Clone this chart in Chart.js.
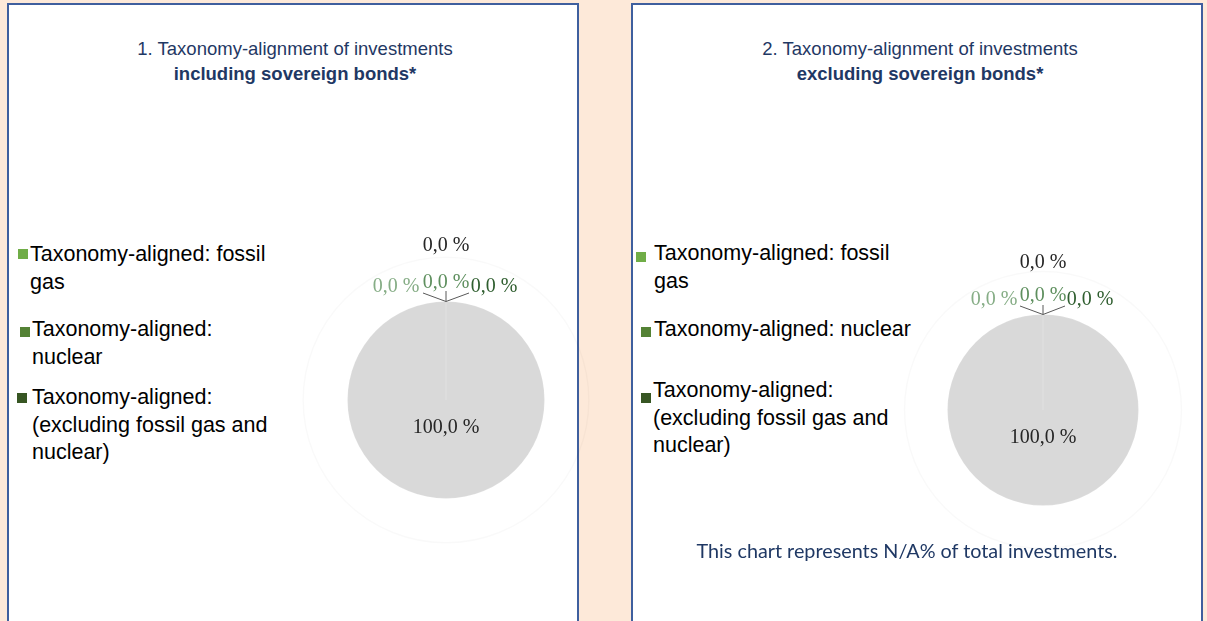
<!DOCTYPE html>
<html>
<head>
<meta charset="utf-8">
<script src="https://cdn.jsdelivr.net/npm/chart.js@4/dist/chart.umd.min.js"></script>
<style>
body { margin: 0; width: 1207px; height: 621px; overflow: hidden; position: relative;
       background: #fde9d9; font-family: "Liberation Sans", Arial, sans-serif; }
.panel { position: absolute; top: 3px; width: 572px; height: 700px; box-sizing: border-box;
         border: 2px solid #3f5f9e; background: #fff; }
.title { position: absolute; top: 36px; width: 420px; text-align: center; font-size: 18.5px;
         line-height: 25px; color: #1f3864; }
.title b { font-weight: bold; }
.item { position: absolute; font-size: 21.5px; line-height: 27.5px; color: #000; }
.sq { position: absolute; width: 10px; height: 10px; }
.note { position: absolute; top: 538px; left: 607px; width: 600px; text-align: center;
        font-family: Lato, sans-serif; font-size: 19.8px; color: #1f3864; }
canvas { position: absolute; }
</style>
</head>
<body>
<div class="panel" style="left:7px"></div>
<div class="panel" style="left:631px"></div>

<div class="title" style="left:85px">1. Taxonomy-alignment of investments<br><b>including sovereign bonds*</b></div>
<div class="title" style="left:710px">2. Taxonomy-alignment of investments<br><b>excluding sovereign bonds*</b></div>

<div id="legend1"></div>
<div id="legend2"></div>

<canvas id="pie1" width="340" height="340" style="left:276px;top:230px"></canvas>
<canvas id="pie2" width="340" height="340" style="left:873px;top:240px"></canvas>

<div class="note">This chart represents N/A% of total investments.</div>

<script>
// data
var categories = [
	"Taxonomy-aligned: fossil gas",
	"Taxonomy-aligned: nuclear",
	"Taxonomy-aligned: (excluding fossil gas and nuclear)",
	"Other investments",
	"Non Taxonomy-aligned"
];
var valuesInclSovereign = [0.0, 0.0, 0.0, 0.0, 100.0];
var valuesExclSovereign = [0.0, 0.0, 0.0, 0.0, 100.0];

var sliceColors = ["#70ad47", "#548235", "#375623", "#a5a5a5", "#d9d9d9"];
var labelColors = ["#86ad86", "#5e8f5e", "#2f5e2f", "#262626", "#262626"];

function fmt(v) {
	return v.toFixed(1).replace(".", ",") + " %";
}

// legend (html, placed like the original text boxes)
function buildLegend(targetId, items) {
	var target = document.getElementById(targetId);
	for (var i = 0; i < items.length; i++) {
		var it = items[i];
		var div = document.createElement("DIV");
		div.className = "item";
		div.style.left = it.x + "px";
		div.style.top = it.y + "px";
		div.style.width = it.w + "px";
		var sq = document.createElement("SPAN");
		sq.className = "sq";
		sq.style.background = sliceColors[i];
		sq.style.left = (it.sx - it.x) + "px";
		sq.style.top = (it.sy - it.y) + "px";
		div.appendChild(sq);
		div.appendChild(document.createTextNode(categories[i]));
		target.appendChild(div);
	}
}

buildLegend("legend1", [
	{ x: 30, y: 241, w: 248, sx: 18, sy: 249 },
	{ x: 32, y: 316, w: 248, sx: 20, sy: 327 },
	{ x: 32, y: 384, w: 248, sx: 17, sy: 393 }
]);
buildLegend("legend2", [
	{ x: 654, y: 240, w: 264, sx: 636, sy: 252 },
	{ x: 654, y: 316, w: 264, sx: 641, sy: 327 },
	{ x: 653, y: 377, w: 264, sx: 641, sy: 393 }
]);

// data labels + leader lines, positioned like the excel ones
var pieLabels = {
	id: "pieLabels",
	beforeDatasetsDraw: function(chart, args, opts) {
		var arc = chart.getDatasetMeta(0).data[0];
		var ctx = chart.ctx;
		ctx.save();
		ctx.beginPath();
		ctx.arc(arc.x, arc.y, arc.outerRadius * opts.ring, 0, Math.PI * 2);
		ctx.strokeStyle = "rgba(0,0,0,0.025)";
		ctx.lineWidth = 1.5;
		ctx.stroke();
		ctx.restore();
	},
	afterDatasetsDraw: function(chart, args, opts) {
		var ctx = chart.ctx;
		var meta = chart.getDatasetMeta(0);
		var data = chart.data.datasets[0].data;
		var cx = meta.data[0].x, cy = meta.data[0].y, r = meta.data[0].outerRadius;
		ctx.save();
		ctx.font = '20px "Liberation Serif", "Times New Roman", serif';
		ctx.textAlign = "center";
		ctx.textBaseline = "middle";
		meta.data.forEach(function(a, i) {
			var off = opts.offsets[i];
			var mid = (a.startAngle + a.endAngle) / 2;
			if (off.lx !== undefined) {
				ctx.beginPath();
				ctx.moveTo(cx + Math.cos(mid) * r, cy + Math.sin(mid) * r);
				ctx.lineTo(cx + off.lx, cy + off.ly);
				ctx.strokeStyle = "#595959";
				ctx.lineWidth = 1;
				ctx.stroke();
			}
			ctx.fillStyle = labelColors[i];
			ctx.fillText(fmt(data[i]), cx + off.dx, cy + off.dy);
		});
		ctx.restore();
	}
};

function makePie(id, values, radius, offsets) {
	return new Chart(document.getElementById(id), {
		type: "pie",
		data: {
			labels: categories,
			datasets: [{
				data: values,
				backgroundColor: sliceColors,
				borderColor: "rgba(255,255,255,0.15)",
				borderWidth: 1,
				radius: radius
			}]
		},
		options: {
			responsive: false,
			animation: false,
			layout: { padding: 0 },
			plugins: {
				legend: { display: false },
				tooltip: { enabled: false },
				pieLabels: { ring: 1.45, offsets: offsets }
			}
		},
		plugins: [pieLabels]
	});
}

makePie("pie1", valuesInclSovereign, 98.5, [
	{ dx: -50, dy: -113, lx: -23, ly: -107 },
	{ dx: 0, dy: -117, lx: 0, ly: -109 },
	{ dx: 48, dy: -113, lx: 23, ly: -107 },
	{ dx: 0, dy: -154 },
	{ dx: 0, dy: 28 }
]);
makePie("pie2", valuesExclSovereign, 95.5, [
	{ dx: -49, dy: -110, lx: -23, ly: -104 },
	{ dx: 0, dy: -114, lx: 0, ly: -105 },
	{ dx: 47, dy: -110, lx: 22, ly: -104 },
	{ dx: 0, dy: -147 },
	{ dx: 0, dy: 28 }
]);
</script>
</body>
</html>
